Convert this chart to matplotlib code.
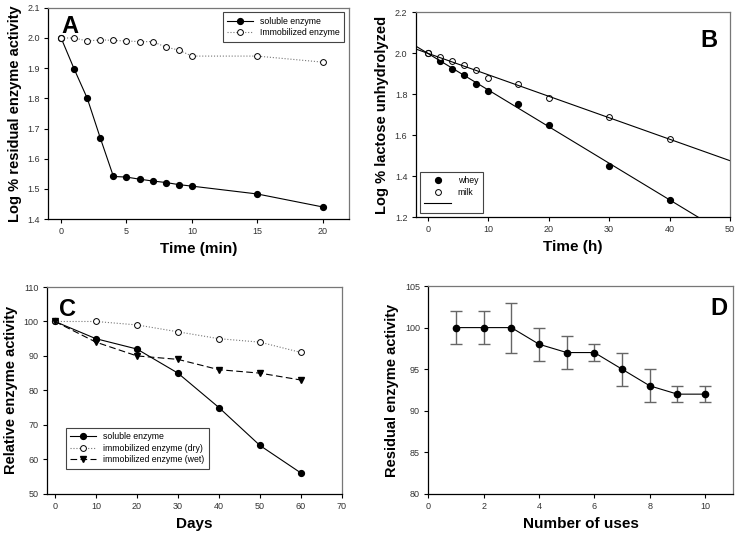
import numpy as np
import matplotlib
matplotlib.use("Agg")
import matplotlib.pyplot as plt

plt.rcParams['font.family'] = ['Liberation Sans', 'DejaVu Sans']

# panel A - thermal stability
time_a = [0, 1, 2, 3, 4, 5, 6, 7, 8, 9, 10, 15, 20]
soluble_a = [2.0, 1.897, 1.80, 1.668, 1.541, 1.539, 1.532, 1.526, 1.521, 1.514, 1.509, 1.483, 1.44]
immob_a = [2.0, 2.0, 1.99, 1.994, 1.992, 1.99, 1.988, 1.988, 1.97, 1.96, 1.94, 1.94, 1.92]

# panel B - lactose hydrolysis
time_b = [0, 2, 4, 6, 8, 10, 15, 20, 30, 40]
whey_b = [2.0, 1.96, 1.92, 1.895, 1.85, 1.815, 1.75, 1.65, 1.45, 1.285]
milk_b = [2.0, 1.98, 1.96, 1.94, 1.915, 1.88, 1.85, 1.78, 1.69, 1.58]

# panel C - storage stability
days_c = [0, 10, 20, 30, 40, 50, 60]
soluble_c = [100, 95, 92, 85, 75, 64, 56]
dry_c = [100, 100, 99, 97, 95, 94, 91]
wet_c = [100, 94, 90, 89, 86, 85, 83]

# panel D - reuse
uses_d = [1, 2, 3, 4, 5, 6, 7, 8, 9, 10]
resid_d = [100, 100, 100, 98, 97, 97, 95, 93, 92, 92]
err_d = [2, 2, 3, 2, 2, 1, 2, 2, 1, 1]

fig = plt.figure(figsize=(7.39, 5.36), dpi=100)
axA = fig.add_axes([0.065, 0.5914, 0.407, 0.394])
axB = fig.add_axes([0.5625, 0.595, 0.4253, 0.3825])
axC = fig.add_axes([0.0632, 0.0789, 0.3996, 0.3856])
axD = fig.add_axes([0.5796, 0.0784, 0.412, 0.388])

tick_col = '#333333'
for ax in (axA, axB, axC, axD):
    ax.tick_params(direction='out', length=3, width=0.8, labelsize=6.5,
                   colors='black', labelcolor=tick_col, pad=3)
    ax.spines['left'].set_color('black')
    ax.spines['bottom'].set_color('black')
    ax.spines['top'].set_color('#777777')
    ax.spines['right'].set_color('#777777')
    for s in ax.spines.values():
        s.set_linewidth(0.9)
    ax.tick_params(top=False, right=False)

xlab = dict(fontsize=11, fontweight='bold')
ylab = dict(fontsize=10.5, fontweight='bold')
letter = dict(fontsize=17, fontweight='bold')
ms = 4.2
leg_kw = dict(fontsize=6.3, fancybox=False, edgecolor='#444444', framealpha=1,
              borderpad=0.5, handlelength=3, labelspacing=0.3, markerscale=1.0)

# A
axA.plot(time_a, soluble_a, '-o', color='black', lw=0.8, ms=ms, label='soluble enzyme')
axA.plot(time_a, immob_a, ':o', color='#777777', lw=0.8, ms=ms, mfc='white',
         mec='black', mew=0.7, label='Immobilized enzyme')
axA.set_xlim(-1, 22)
axA.set_ylim(1.4, 2.1)
axA.set_xticks([0, 5, 10, 15, 20])
axA.set_yticks(np.arange(1.4, 2.11, 0.1))
axA.set_xlabel('Time (min)', **xlab)
axA.set_ylabel('Log % residual enzyme activity', **ylab)
axA.legend(loc='upper right', **leg_kw).get_frame().set_linewidth(0.8)
axA.text(0.043, 0.88, 'A', transform=axA.transAxes, **letter)

# B
axB.plot(time_b, whey_b, 'o', color='black', ms=ms, label='whey')
axB.plot(time_b, milk_b, 'o', color='black', ms=ms, mfc='white', mew=0.7, label='milk')
xfit = np.array([-2, 50])
kw = np.polyfit(time_b, whey_b, 1)
km = np.polyfit(time_b, milk_b, 1)
axB.plot(xfit, np.polyval(kw, xfit), '-', color='black', lw=0.8, label=' ')
axB.plot(xfit, np.polyval(km, xfit), '-', color='black', lw=0.8)
axB.set_xlim(-2, 50)
axB.set_ylim(1.2, 2.2)
axB.set_xticks([0, 10, 20, 30, 40, 50])
axB.set_yticks([1.2, 1.4, 1.6, 1.8, 2.0, 2.2])
axB.yaxis.set_major_formatter(plt.FormatStrFormatter('%.1f'))
axB.set_xlabel('Time (h)', **xlab)
axB.set_ylabel('Log % lactose unhydrolyzed', **ylab)
axB.legend(loc='lower left', **leg_kw).get_frame().set_linewidth(0.8)
axB.text(0.905, 0.83, 'B', transform=axB.transAxes, **letter)

# C
axC.plot(days_c, soluble_c, '-o', color='black', lw=0.8, ms=ms, label='soluble enzyme')
axC.plot(days_c, dry_c, ':o', color='#777777', lw=0.8, ms=ms, mfc='white',
         mec='black', mew=0.7, label='immobilized enzyme (dry)')
axC.plot(days_c, wet_c, '--v', color='black', lw=0.8, ms=ms, dashes=(6, 3),
         label='immobilized enzyme (wet)')
axC.set_xlim(-2, 70)
axC.set_ylim(50, 110)
axC.set_xticks(np.arange(0, 71, 10))
axC.set_yticks(np.arange(50, 111, 10))
axC.set_xlabel('Days', **xlab)
axC.set_ylabel('Relative enzyme activity', **ylab)
axC.legend(loc='lower left', bbox_to_anchor=(0.05, 0.1), **leg_kw).get_frame().set_linewidth(0.8)
axC.text(0.04, 0.86, 'C', transform=axC.transAxes, **letter)

# D
axD.errorbar(uses_d, resid_d, yerr=err_d, fmt='-o', color='black', lw=0.8, ms=ms + 0.3,
             ecolor='#666666', elinewidth=1.0, capsize=4, capthick=1.0)
axD.set_xlim(0, 11)
axD.set_ylim(80, 105)
axD.set_xticks([0, 2, 4, 6, 8, 10])
axD.set_yticks([80, 85, 90, 95, 100, 105])
axD.set_xlabel('Number of uses', **xlab)
axD.set_ylabel('Residual enzyme activity', **ylab)
axD.text(0.925, 0.86, 'D', transform=axD.transAxes, **letter)

fig.savefig('out.png', dpi=100)
